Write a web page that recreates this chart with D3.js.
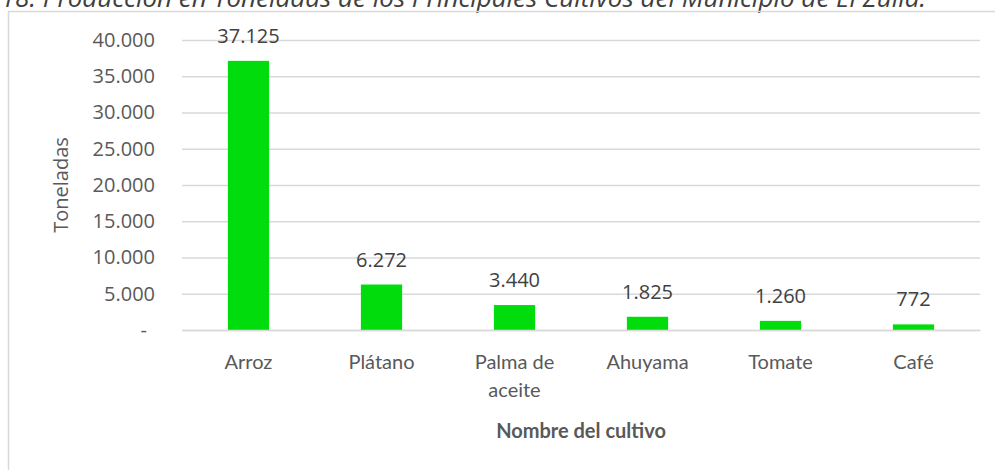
<!DOCTYPE html>
<html>
<head>
<meta charset="utf-8">
<script src="https://cdn.jsdelivr.net/npm/d3@7"></script>
<style>
  html, body { margin: 0; padding: 0; background: #fff; overflow: hidden; }
  .chart-container { width: 995px; height: 470px; }
  .grid line { stroke: #d9d9d9; stroke-width: 1.5; }
  .grid .domain { display: none; }
</style>
</head>
<body>
<div class="chart-container"></div>
<script>
const cultivos = ['Arroz', 'Plátano', 'Palma de aceite', 'Ahuyama', 'Tomate', 'Café'];
const toneladas = [37125, 6272, 3440, 1825, 1260, 772];
const yTicks = [0, 5000, 10000, 15000, 20000, 25000, 30000, 35000, 40000];
const caption = 'Figura 18. Producción en Toneladas de los Principales Cultivos del Municipio de El Zulia.';

const es = d3.formatLocale({decimal: ',', thousands: '.', grouping: [3], currency: ['$', '']});
const fmt = es.format(',d');

function build_x_scale(width) {
   return d3.scaleBand()
      .domain(cultivos)
      .range([0, width])
      .paddingInner(0.69)
      .paddingOuter(0.345);
}

function build_y_scale(height) {
   return d3.scaleLinear()
      .domain([0, 40000])
      .range([height, 0]);
}

function build_chart() {
   const margin = {top: 40, left: 182, right: 15, bottom: 140};
   const width = 995 - margin.left - margin.right;
   const height = 470 - margin.top - margin.bottom;

   const svg = d3.select('.chart-container')
      .append('svg')
      .attr('width', 995)
      .attr('height', 470);

   // caption, cut off at the top of the picture like in the source
   svg.append('text')
      .attr('x', 926)
      .attr('y', 7)
      .attr('text-anchor', 'end')
      .style('font-family', 'Open Sans')
      .style('font-style', 'italic')
      .style('font-size', '26px')
      .style('fill', '#404040')
      .text(caption);

   // chart frame
   svg.append('rect')
      .attr('x', 8.5).attr('y', 11.5)
      .attr('width', 1100).attr('height', 600)
      .attr('fill', 'none')
      .attr('stroke', '#d9d9d9')
      .attr('stroke-width', 1.5);

   const chart = svg.append('g')
      .attr('transform', `translate(${margin.left}, ${margin.top})`);

   const xScale = build_x_scale(width);
   const yScale = build_y_scale(height);

   // gridlines
   chart.append('g')
      .attr('class', 'grid')
      .call(d3.axisLeft(yScale).tickValues(yTicks).tickSize(-width).tickFormat(''));

   // tick labels
   const yAxis = chart.append('g')
      .call(d3.axisLeft(yScale).tickValues(yTicks).tickSize(0).tickPadding(27)
         .tickFormat(d => d === 0 ? '-' : fmt(d)));
   yAxis.select('.domain').remove();
   yAxis.selectAll('text')
      .style('font-family', 'Open Sans')
      .style('font-size', '20px')
      .style('fill', '#595959');
   yAxis.selectAll('.tick').filter(d => d === 0).select('text').attr('dx', '-8');

   // bars
   chart.selectAll('.bar')
      .data(cultivos)
      .enter()
      .append('rect')
      .attr('class', 'bar')
      .attr('x', d => xScale(d))
      .attr('y', (d, i) => yScale(toneladas[i]))
      .attr('width', xScale.bandwidth())
      .attr('height', (d, i) => height - yScale(toneladas[i]))
      .style('fill', '#00dc0c');

   // value labels
   chart.selectAll('.val')
      .data(cultivos)
      .enter()
      .append('text')
      .attr('x', d => xScale(d) + xScale.bandwidth() / 2)
      .attr('y', (d, i) => yScale(toneladas[i]) - 18)
      .attr('text-anchor', 'middle')
      .style('font-family', 'Open Sans')
      .style('font-size', '20px')
      .style('fill', '#404040')
      .text((d, i) => fmt(toneladas[i]));

   // x axis labels
   const xAxis = chart.append('g')
      .attr('transform', `translate(0, ${height})`)
      .call(d3.axisBottom(xScale).tickSize(0).tickPadding(0).tickFormat(''));
   xAxis.select('.domain').attr('stroke', '#d9d9d9').attr('stroke-width', 1.5);
   xAxis.selectAll('.tick').each(function(d) {
      const words = d === 'Palma de aceite' ? ['Palma de', 'aceite'] : [d];
      const t = d3.select(this).append('text')
         .attr('text-anchor', 'middle')
         .style('font-family', 'Lato')
         .style('font-size', '20px')
         .style('fill', '#595959');
      words.forEach((w, i) => {
         t.append('tspan').attr('x', 0).attr('y', 39 + i * 28).text(w);
      });
   });

   // axis titles
   chart.append('text')
      .attr('x', width / 2)
      .attr('y', height + 108)
      .attr('text-anchor', 'middle')
      .style('font-family', 'Lato')
      .style('font-weight', 'bold')
      .style('font-size', '20px')
      .style('fill', '#595959')
      .text('Nombre del cultivo');

   chart.append('text')
      .attr('transform', `translate(${-114}, ${height / 2}) rotate(-90)`)
      .attr('text-anchor', 'middle')
      .style('font-family', 'Open Sans')
      .style('font-size', '20px')
      .style('fill', '#595959')
      .text('Toneladas');
}

build_chart();
</script>
</body>
</html>
